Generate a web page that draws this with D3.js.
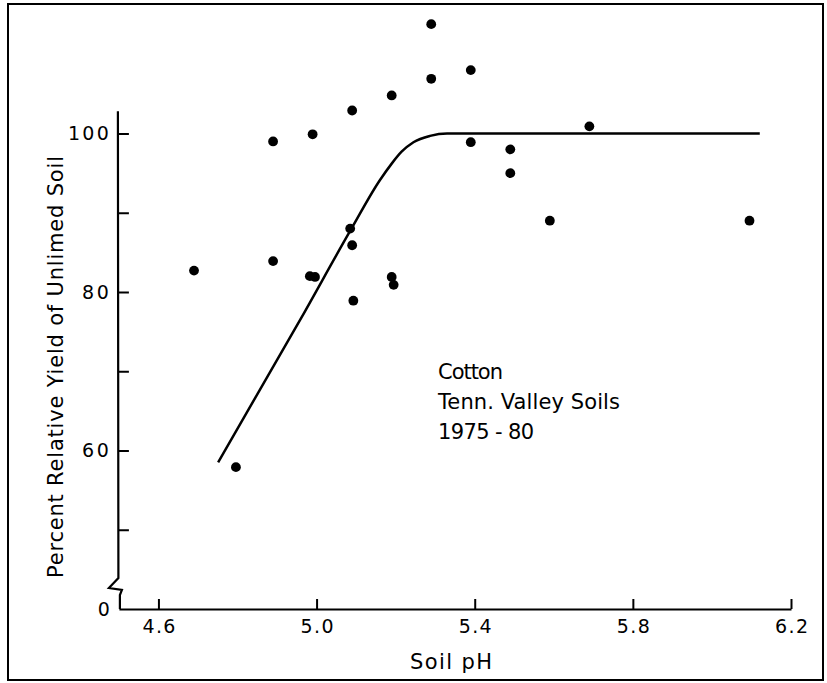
<!DOCTYPE html>
<html>
<head>
<meta charset="utf-8">
<script src="https://cdn.jsdelivr.net/npm/d3@7"></script>
<style>
  html, body { margin: 0; padding: 0; background: #fff; }
  svg { display: block; }
  text { font-family: "DejaVu Sans", sans-serif; font-weight: 400; fill: #000; }
</style>
</head>
<body>
<svg id="chart" width="827" height="683"></svg>
<script>
// ---- Data ----
const soilPH = [5.29, 5.39, 5.29, 5.19, 5.09, 4.89, 4.99, 5.69, 5.39, 5.49, 5.49, 5.59, 6.095,
                5.085, 5.09, 4.69, 4.89, 4.983, 4.996, 5.19, 5.195, 5.093, 4.796];
const relYield = [113.8, 108, 106.9, 104.8, 102.9, 99, 99.9, 100.9, 98.9, 98, 95, 89, 89,
                  88, 85.9, 82.7, 83.9, 82, 81.9, 81.9, 80.9, 78.9, 57.9];
// fitted response curve
const curvePH    = [4.751, 4.962, 5.086, 5.16, 5.19, 5.215, 5.245, 5.287, 5.33, 6.121];
const curveYield = [58.5, 76.8, 87.8, 94.1, 96.2, 97.7, 98.9, 99.7, 100, 100];
const xTicks = [4.6, 5.0, 5.4, 5.8, 6.2];
const yMajorTicks = [60, 80, 100];
const yMinorTicks = [50, 70, 90];
const yBreakValue = 40;      // axis baseline, labelled "0" (broken axis)
const yBreakLabel = "0";
const yAxisTop = 102.8;
const xTitle = "Soil pH";
const yTitle = "Percent Relative Yield of Unlimed Soil";
const noteLines = ["Cotton", "Tenn. Valley Soils", "1975 - 80"];

// ---- Layout ----
const svg = d3.select("#chart");
const x = d3.scaleLinear().domain([4.5, 6.2]).range([118.9, 791]);
const y = d3.scaleLinear().domain([40, 100]).range([609, 133.5]);

// frame
svg.append("rect").attr("x", 8).attr("y", 4).attr("width", 815).attr("height", 676)
  .attr("fill", "none").attr("stroke", "#000").attr("stroke-width", 2);

// x axis
const gx = svg.append("g").attr("transform", `translate(0,${y(yBreakValue)})`)
  .call(d3.axisBottom(x).tickValues(xTicks).tickFormat(d3.format(".1f"))
        .tickSizeInner(-10).tickSizeOuter(0).tickPadding(11));
gx.select(".domain").attr("stroke", "#000").attr("stroke-width", 2);
gx.selectAll(".tick line").attr("stroke", "#000").attr("stroke-width", 2);
gx.selectAll("text").style("font-size", "19px").attr("fill", "#000")
  .attr("textLength", 33).attr("lengthAdjust", "spacing");

// y axis ticks
const gy = svg.append("g").attr("transform", `translate(${x(4.5)},0)`)
  .call(d3.axisLeft(y).tickValues(yMajorTicks).tickFormat(d3.format("d"))
        .tickSizeInner(-10).tickSizeOuter(0).tickPadding(10));
gy.select(".domain").remove();
gy.selectAll(".tick line").attr("stroke", "#000").attr("stroke-width", 2);
gy.selectAll("text").style("font-size", "19px").attr("fill", "#000")
  .attr("textLength", d => d >= 100 ? 41 : 27).attr("lengthAdjust", "spacing");

const gyMinor = svg.append("g").attr("transform", `translate(${x(4.5)},0)`)
  .call(d3.axisLeft(y).tickValues(yMinorTicks).tickFormat("").tickSizeInner(-10).tickSizeOuter(0));
gyMinor.select(".domain").remove();
gyMinor.selectAll(".tick line").attr("stroke", "#000").attr("stroke-width", 2);

// y axis line with break
const ax = x(4.5);
const yb = y(yBreakValue);
const axisPath = d3.path();
axisPath.moveTo(ax - 1, y(yAxisTop));
axisPath.lineTo(ax - 0.5, yb - 31);
axisPath.lineTo(ax - 10, yb - 21);
axisPath.lineTo(ax + 3, yb - 19);
axisPath.lineTo(ax + 1, yb - 14);
axisPath.lineTo(ax + 1, yb);
svg.append("path").attr("d", axisPath.toString()).attr("fill", "none")
  .attr("stroke", "#000").attr("stroke-width", 2.2).attr("stroke-linejoin", "miter");

// "0" label at the broken baseline
svg.append("text").attr("x", ax - 9).attr("y", yb).attr("dy", "0.36em")
  .attr("text-anchor", "end").style("font-size", "19px").text(yBreakLabel);

// curve
const curveData = curvePH.map((p, i) => [p, curveYield[i]]);
svg.append("path").datum(curveData)
  .attr("d", d3.line().x(d => x(d[0])).y(d => y(d[1])).curve(d3.curveMonotoneX))
  .attr("fill", "none").attr("stroke", "#000").attr("stroke-width", 2.5);

// points
svg.append("g").selectAll("circle").data(soilPH.map((p, i) => [p, relYield[i]]))
  .join("circle").attr("cx", d => x(d[0])).attr("cy", d => y(d[1])).attr("r", 4.9)
  .attr("fill", "#000");

// axis titles
svg.append("text").attr("x", 451).attr("y", 669).attr("text-anchor", "middle")
  .style("font-size", "21px").attr("textLength", 82).attr("lengthAdjust", "spacing").text(xTitle);
svg.append("text").attr("transform", "translate(63,367) rotate(-90)").attr("text-anchor", "middle")
  .style("font-size", "21px").attr("textLength", 422).attr("lengthAdjust", "spacing").text(yTitle);

// annotation
const noteW = [65, 182, 96];
const noteY = [379, 408.5, 439];
svg.append("g").selectAll("text").data(noteLines).join("text")
  .attr("x", 438).attr("y", (d, i) => noteY[i])
  .style("font-size", "21px")
  .attr("textLength", (d, i) => noteW[i]).attr("lengthAdjust", "spacing")
  .text(d => d);
</script>
</body>
</html>
